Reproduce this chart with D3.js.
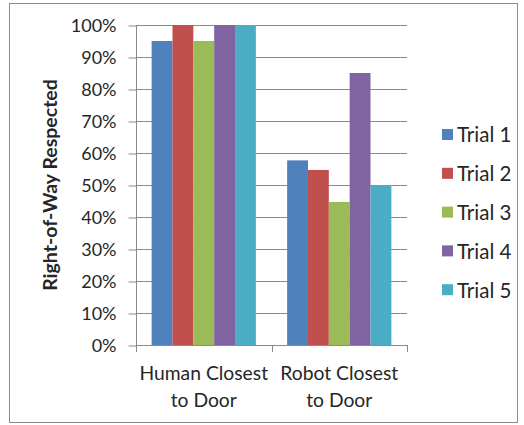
<!DOCTYPE html>
<html>
<head>
<meta charset="utf-8">
<script src="https://cdn.jsdelivr.net/npm/d3@7"></script>
<style>
  html, body { margin: 0; padding: 0; background: #fff; }
  svg text { font-family: Lato, "Open Sans", sans-serif; fill: #262626; }
</style>
</head>
<body>
<svg id="chart" width="524" height="425"></svg>
<script>
// Scenario groups along the x axis (each label is two lines)
const categories = [["Human Closest", "to Door"], ["Robot Closest", "to Door"]];
// One series per trial
const seriesNames = ["Trial 1", "Trial 2", "Trial 3", "Trial 4", "Trial 5"];
const humanValues = [0.95, 1.00, 0.95, 1.00, 1.00];
const robotValues = [0.577, 0.547, 0.447, 0.85, 0.50];
const seriesColors = ["#4F81BD", "#C0504D", "#9BBB59", "#8064A2", "#4BACC6"];
const yTicks = [0, 0.1, 0.2, 0.3, 0.4, 0.5, 0.6, 0.7, 0.8, 0.9, 1.0];
const yTitle = "Right-of-Way Respected";

const groupValues = [humanValues, robotValues];

const svg = d3.select("#chart");

// outer frame
svg.append("rect")
  .attr("x", 9.5).attr("y", 3.5)
  .attr("width", 508).attr("height", 419)
  .attr("fill", "#fff").attr("stroke", "#8c8c8c").attr("stroke-width", 1);

const plot = { left: 136, right: 407, top: 25, bottom: 345 };

const y = d3.scaleLinear().domain([0, 1]).range([plot.bottom, plot.top]);
const x0 = d3.scaleBand()
  .domain(d3.range(categories.length))
  .range([plot.left, plot.right])
  .paddingInner(0).paddingOuter(0);
// bars fill the middle of each category with 150% gap width split on both sides
const x1 = d3.scaleBand()
  .domain(d3.range(seriesNames.length))
  .range([0, x0.bandwidth()])
  .paddingInner(0)
  .paddingOuter(0.75);

const gridColor = "#8a8a8a";

// horizontal gridlines
svg.append("g")
  .selectAll("line")
  .data(yTicks.slice(1))
  .join("line")
  .attr("x1", plot.left).attr("x2", plot.right)
  .attr("y1", d => Math.round(y(d)) + 0.5).attr("y2", d => Math.round(y(d)) + 0.5)
  .attr("stroke", gridColor).attr("stroke-width", 1);

// bars
const groups = svg.append("g")
  .selectAll("g")
  .data(groupValues)
  .join("g")
  .attr("transform", (d, i) => `translate(${x0(i)},0)`);

groups.selectAll("rect")
  .data(d => d)
  .join("rect")
  .attr("x", (d, j) => x1(j))
  .attr("width", x1.bandwidth())
  .attr("y", d => y(d))
  .attr("height", d => plot.bottom - y(d))
  .attr("fill", (d, j) => seriesColors[j]);

// y axis
const yAxis = d3.axisLeft(y)
  .tickValues(yTicks)
  .tickFormat(d3.format(".0%"))
  .tickSize(8)
  .tickPadding(12);

const yg = svg.append("g")
  .attr("transform", `translate(${plot.left + 0.5},0)`)
  .call(yAxis);
yg.select(".domain").attr("stroke", gridColor).attr("d", `M0,${plot.top}V${plot.bottom}`);
yg.selectAll(".tick line").attr("stroke", gridColor)
  .attr("transform", "translate(0,0.5)");
yg.selectAll(".tick text")
  .attr("font-size", 18)
  .attr("fill", "#262626")
  .attr("font-family", "Lato, sans-serif")
  .attr("dy", "0.36em");

// x axis line with category boundary ticks
const xg = svg.append("g");
xg.append("line")
  .attr("x1", plot.left).attr("x2", plot.right)
  .attr("y1", plot.bottom + 0.5).attr("y2", plot.bottom + 0.5)
  .attr("stroke", gridColor);
xg.selectAll("line.bound")
  .data(d3.range(categories.length + 1))
  .join("line")
  .attr("class", "bound")
  .attr("x1", i => Math.round(i < categories.length ? x0(i) : plot.right) + 0.5)
  .attr("x2", i => Math.round(i < categories.length ? x0(i) : plot.right) + 0.5)
  .attr("y1", plot.bottom).attr("y2", plot.bottom + 7)
  .attr("stroke", gridColor);

// category labels
xg.selectAll("text.cat")
  .data(categories)
  .join("text")
  .attr("class", "cat")
  .attr("text-anchor", "middle")
  .attr("font-size", 19.3)
  .attr("x", (d, i) => x0(i) + x0.bandwidth() / 2)
  .attr("y", 380)
  .selectAll("tspan")
  .data(d => d)
  .join("tspan")
  .attr("x", function() { return this.parentNode.getAttribute("x"); })
  .attr("dy", (d, k) => k === 0 ? 0 : 27)
  .text(d => d);

// y axis title
svg.append("text")
  .attr("transform", "translate(57,185) rotate(-90)")
  .attr("text-anchor", "middle")
  .attr("font-size", 19.5)
  .attr("font-weight", "bold")
  .attr("fill", "#000")
  .text(yTitle);

// legend
const legend = svg.append("g")
  .selectAll("g")
  .data(seriesNames)
  .join("g")
  .attr("transform", (d, i) => `translate(442,${135 + i * 38.8})`);
legend.append("rect")
  .attr("x", 0).attr("y", -6)
  .attr("width", 11).attr("height", 11)
  .attr("fill", (d, i) => seriesColors[i]);
legend.append("text")
  .attr("x", 15).attr("y", 0)
  .attr("dy", "0.36em")
  .attr("font-size", 20.5)
  .text(d => d);
</script>
</body>
</html>
